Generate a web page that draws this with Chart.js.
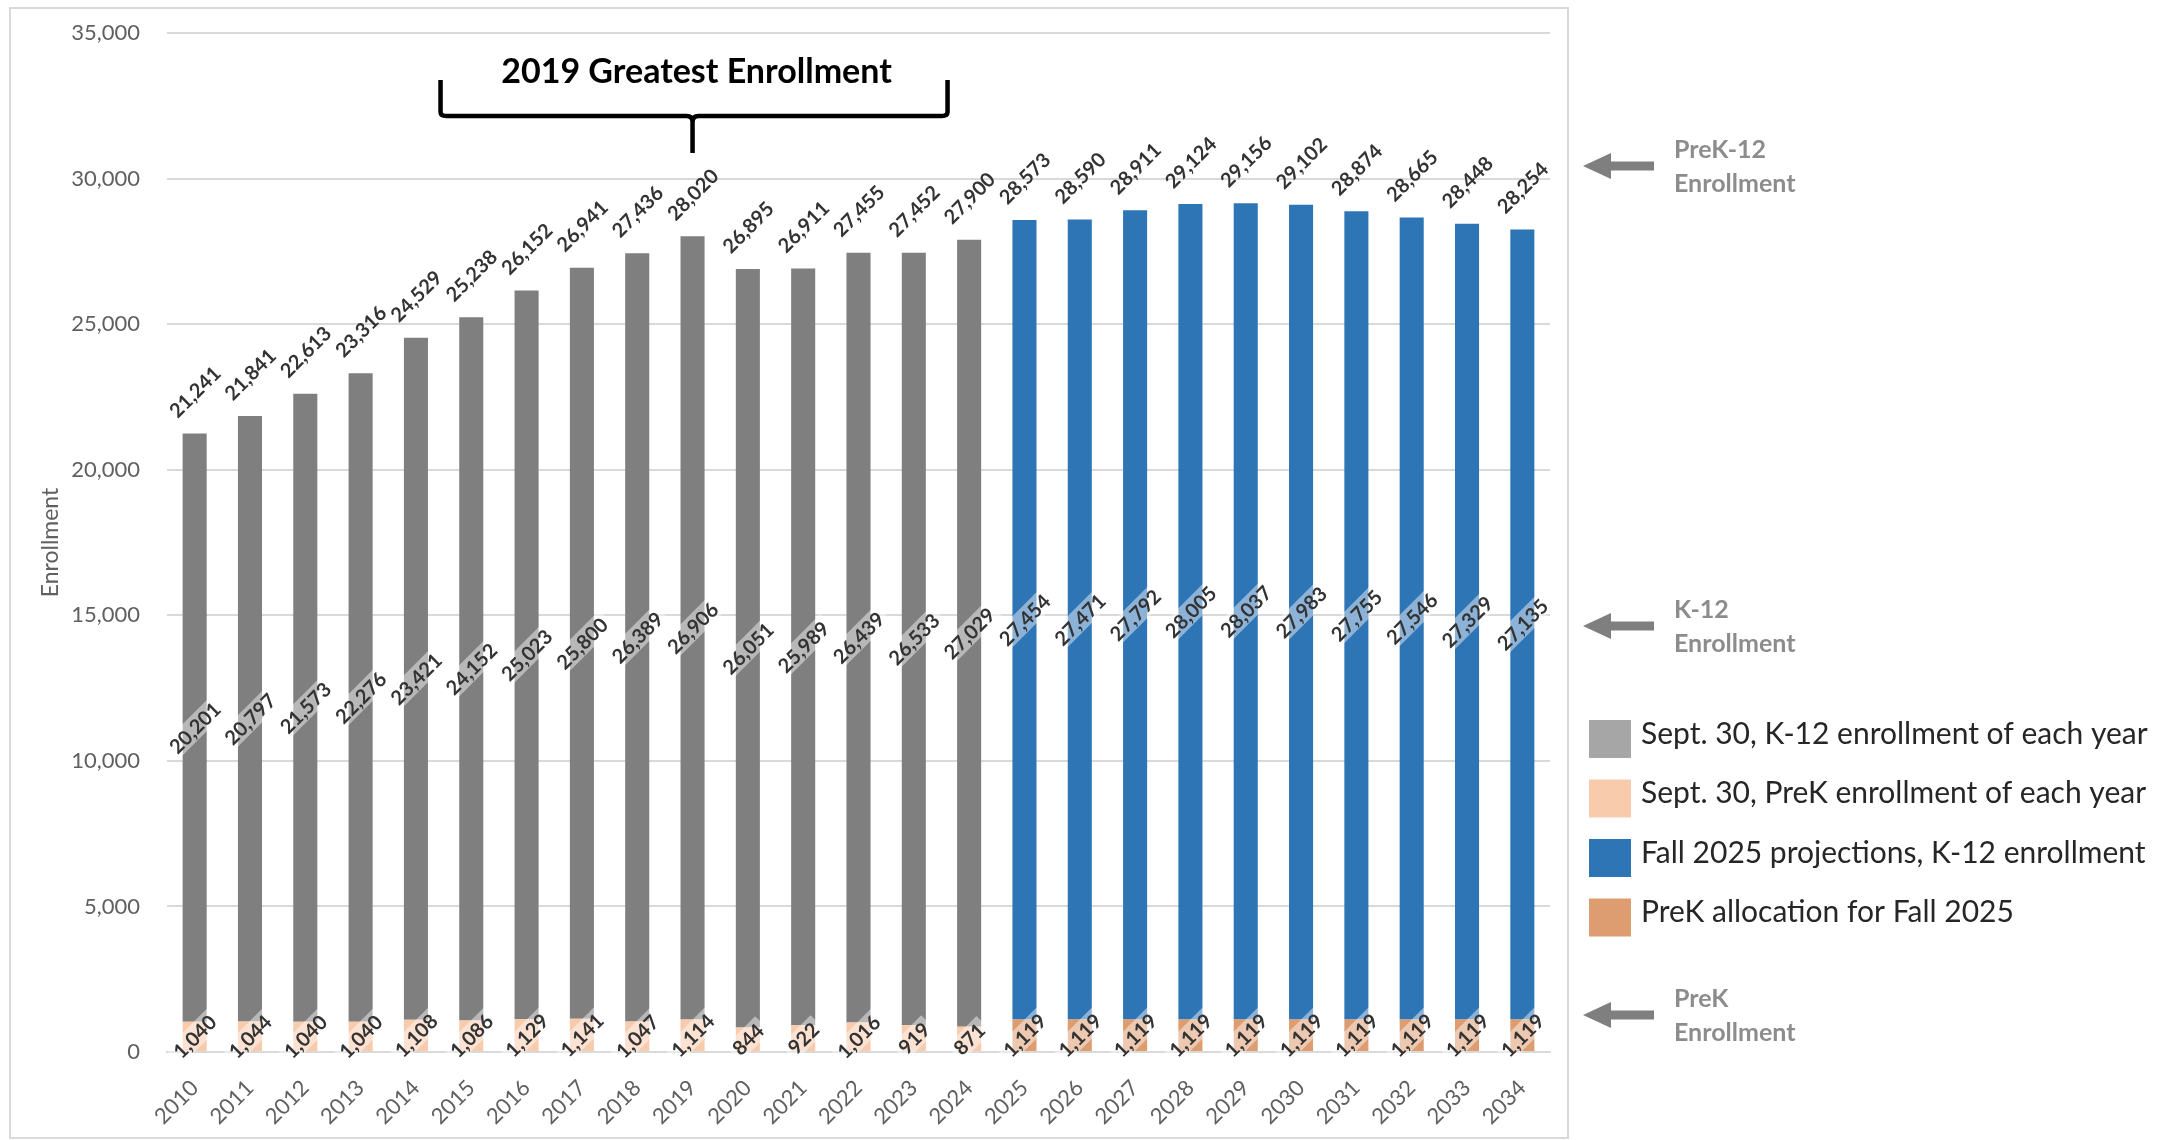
<!DOCTYPE html>
<html>
<head>
<meta charset="utf-8">
<title>Enrollment</title>
<script src="https://cdn.jsdelivr.net/npm/chart.js@4.4.1/dist/chart.umd.min.js"></script>
<style>
  html, body { margin: 0; padding: 0; background: #fff; }
  #wrap { width: 2164px; height: 1140px; }
</style>
</head>
<body>
<div id="wrap"><canvas id="enrollChart" width="2164" height="1140"></canvas></div>
<script>
// years on the x axis
const years = ['2010', '2011', '2012', '2013', '2014', '2015', '2016', '2017', '2018', '2019',
  '2020', '2021', '2022', '2023', '2024', '2025', '2026', '2027', '2028', '2029',
  '2030', '2031', '2032', '2033', '2034'];

// Sept. 30 counts (2010-2024)
const k12Actual = [20201, 20797, 21573, 22276, 23421, 24152, 25023, 25800, 26389, 26906,
  26051, 25989, 26439, 26533, 27029];
const prekActual = [1040, 1044, 1040, 1040, 1108, 1086, 1129, 1141, 1047, 1114,
  844, 922, 1016, 919, 871];

// Fall 2025 projections (2025-2034)
const k12Projected = [27454, 27471, 27792, 28005, 28037, 27983, 27755, 27546, 27329, 27135];
const prekAllocation = [1119, 1119, 1119, 1119, 1119, 1119, 1119, 1119, 1119, 1119];

const yTicks = { min: 0, max: 35000, step: 5000 };

const seriesNames = [
  'Sept. 30, K-12 enrollment of each year',
  'Sept. 30, PreK enrollment of each year',
  'Fall 2025 projections, K-12 enrollment',
  'PreK allocation for Fall 2025'
];

const FONT = 'Lato, "Open Sans", sans-serif';
const nHist = k12Actual.length;
const nProj = k12Projected.length;
const pad = (arr, before, after) => Array(before).fill(null).concat(arr, Array(after).fill(null));

const fmt = v => v.toLocaleString('en-US');

// rotated value labels, K-12 / PreK inside the bar, totals above
const barLabels = {
  id: 'barLabels',
  afterDatasetsDraw(chart) {
    const ctx = chart.ctx;
    const yScale = chart.scales.y;
    const xScale = chart.scales.x;
    ctx.save();
    ctx.font = 'bold 20px ' + FONT;
    ctx.textAlign = 'center';
    ctx.textBaseline = 'middle';

    function rotated(text, x, y, box) {
      ctx.save();
      ctx.translate(x, y);
      ctx.rotate(-Math.PI / 4);
      if (box) {
        const w = ctx.measureText(text).width;
        ctx.fillStyle = 'rgba(255,255,255,0.45)';
        ctx.fillRect(-w / 2 - 4, -11, w + 8, 22);
      }
      ctx.fillStyle = '#333333';
      ctx.fillText(text, 0, 1);
      ctx.restore();
    }

    chart.data.datasets.forEach((ds, di) => {
      const meta = chart.getDatasetMeta(di);
      meta.data.forEach((bar, i) => {
        const v = ds.data[i];
        if (v == null) return;
        rotated(fmt(v), bar.x, (bar.y + bar.base) / 2, true);
      });
    });

    years.forEach((yr, i) => {
      let total = 0;
      chart.data.datasets.forEach(ds => { total += ds.data[i] || 0; });
      const x = xScale.getPixelForValue(i);
      const y = yScale.getPixelForValue(total);
      rotated(fmt(total), x, y - 42, false);
    });
    ctx.restore();
  }
};

// frame, bracket note, side arrows and legend
const decorations = {
  id: 'decorations',
  beforeDraw(chart) {
    const ctx = chart.ctx;
    ctx.save();
    ctx.fillStyle = '#fff';
    ctx.fillRect(0, 0, chart.width, chart.height);
    ctx.strokeStyle = '#d9d9d9';
    ctx.lineWidth = 2;
    ctx.strokeRect(10, 8, 1558, 1130);
    ctx.restore();
  },
  afterDraw(chart) {
    const ctx = chart.ctx;
    const xScale = chart.scales.x;
    ctx.save();

    // "2019 Greatest Enrollment" bracket
    const cx = xScale.getPixelForValue(years.indexOf('2019'));
    ctx.fillStyle = '#000';
    ctx.font = 'bold 34px ' + FONT;
    ctx.textAlign = 'center';
    ctx.textBaseline = 'middle';
    ctx.fillText('2019 Greatest Enrollment', cx + 4, 72);
    ctx.strokeStyle = '#000';
    ctx.lineWidth = 4.5;
    ctx.lineJoin = 'round';
    const L = cx - 252, R = cx + 255, top = 80, mid = 116;
    ctx.beginPath();
    ctx.moveTo(L, top);
    ctx.lineTo(L, mid - 4);
    ctx.quadraticCurveTo(L, mid, L + 6, mid);
    ctx.lineTo(cx - 6, mid);
    ctx.quadraticCurveTo(cx, mid, cx, mid + 6);
    ctx.lineTo(cx, 153);
    ctx.moveTo(cx, mid + 6);
    ctx.quadraticCurveTo(cx, mid, cx + 6, mid);
    ctx.lineTo(R - 6, mid);
    ctx.quadraticCurveTo(R, mid, R, mid - 4);
    ctx.lineTo(R, top);
    ctx.stroke();

    // arrows pointing at the enrollment levels
    const arrows = [
      { y: 166, lines: ['PreK-12', 'Enrollment'] },
      { y: 626, lines: ['K-12', 'Enrollment'] },
      { y: 1015, lines: ['PreK', 'Enrollment'] }
    ];
    arrows.forEach(a => {
      ctx.fillStyle = '#7f7f7f';
      ctx.beginPath();
      ctx.moveTo(1583, a.y);
      ctx.lineTo(1611, a.y - 13);
      ctx.lineTo(1611, a.y - 4.5);
      ctx.lineTo(1654, a.y - 4.5);
      ctx.lineTo(1654, a.y + 4.5);
      ctx.lineTo(1611, a.y + 4.5);
      ctx.lineTo(1611, a.y + 13);
      ctx.closePath();
      ctx.fill();
      ctx.fillStyle = '#8c8c8c';
      ctx.font = 'bold 25px ' + FONT;
      ctx.textAlign = 'left';
      ctx.textBaseline = 'middle';
      ctx.fillText(a.lines[0], 1674, a.y - 16);
      ctx.fillText(a.lines[1], 1674, a.y + 18);
    });

    // legend
    const swatch = ['#a6a6a6', '#f8cbad', '#2e75b6', '#dd9d70'];
    ctx.font = '30px ' + FONT;
    ctx.textBaseline = 'middle';
    seriesNames.forEach((name, i) => {
      const yc = 739 + i * 59.5;
      ctx.fillStyle = swatch[i];
      ctx.fillRect(1589, yc - 19, 42, 38);
      ctx.fillStyle = '#262626';
      ctx.fillText(name, 1641, yc - 5);
    });
    ctx.restore();
  }
};

const tickColor = '#606060';

new Chart(document.getElementById('enrollChart'), {
  type: 'bar',
  data: {
    labels: years,
    datasets: [
      { label: seriesNames[1], data: pad(prekActual, 0, nProj), backgroundColor: '#f8cbad' },
      { label: seriesNames[0], data: pad(k12Actual, 0, nProj), backgroundColor: '#7f7f7f' },
      { label: seriesNames[3], data: pad(prekAllocation, nHist, 0), backgroundColor: '#dd9d70' },
      { label: seriesNames[2], data: pad(k12Projected, nHist, 0), backgroundColor: '#2e75b6' }
    ]
  },
  options: {
    responsive: false,
    animation: false,
    devicePixelRatio: 1,
    categoryPercentage: 0.87,
    barPercentage: 0.5,
    layout: { padding: { left: 33, right: 614, top: 33, bottom: 0 } },
    plugins: {
      legend: { display: false },
      tooltip: { enabled: false }
    },
    scales: {
      x: {
        stacked: true,
        grid: { display: false },
        border: { color: '#d9d9d9', width: 2 },
        ticks: {
          color: tickColor,
          font: { family: FONT, size: 22 },
          minRotation: 45,
          maxRotation: 45,
          padding: 15
        },
        afterFit(scale) { scale.height = 88; }
      },
      y: {
        stacked: true,
        min: yTicks.min,
        max: yTicks.max,
        grid: { color: '#d9d9d9', lineWidth: 2, tickLength: 24, tickColor: 'rgba(0,0,0,0)' },
        border: { display: false },
        ticks: {
          stepSize: yTicks.step,
          color: tickColor,
          font: { family: FONT, size: 22 },
          padding: 3
        },
        title: {
          display: true,
          text: 'Enrollment',
          color: tickColor,
          font: { family: FONT, size: 23 },
          padding: { top: 4, bottom: 0 }
        },
        afterFit(scale) { scale.width = 134; }
      }
    }
  },
  plugins: [decorations, barLabels]
});
</script>
</body>
</html>
